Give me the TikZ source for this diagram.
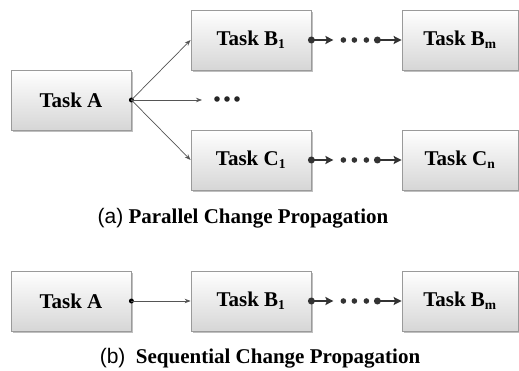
\documentclass[tikz,border=0pt]{standalone}
\usepackage{fontspec}
\setmainfont{Liberation Serif}
\newfontfamily\capsans{Liberation Sans}
\usetikzlibrary{arrows.meta,shadows,calc}

\definecolor{boxline}{HTML}{9A9A9A}
\definecolor{boxbottom}{HTML}{D6D6D6}
\definecolor{linkgray}{HTML}{555555}
\definecolor{chaingray}{HTML}{333333}

\tikzset{
  taskbox/.style={draw=boxline, line width=0.8pt, top color=white, bottom color=boxbottom,
    minimum width=120pt, minimum height=60pt, inner sep=0pt,
    font=\fontsize{21}{23}\selectfont\bfseries,
    drop shadow={shadow xshift=1.6pt, shadow yshift=-1.6pt, opacity=0.25, fill=black}},
  narrowbox/.style={taskbox, minimum width=116pt},
  link/.style={draw=linkgray, line width=0.7pt, -{Stealth[length=6pt, width=4.5pt]}},
  linkdot/.style={circle, fill=black, inner sep=0pt, minimum size=5pt},
  chainlink/.style={draw=chaingray, line width=1.8pt, -{Stealth[length=8pt, width=8pt, inset=1.5pt]}},
  chaindot/.style={circle, fill=chaingray, inner sep=0pt, minimum size=5.6pt},
  bigdot/.style={circle, fill=chaingray, inner sep=0pt, minimum size=7pt},
  gapdot/.style={circle, fill=black!85, inner sep=0pt, minimum size=5.6pt},
  caption/.style={font=\fontsize{21}{23}\selectfont, inner sep=0pt}
}

\newcommand{\sub}[1]{\textsubscript{\fontsize{13.5}{14}\selectfont #1}}

% a chain of tasks: source dot, arrow, three dots, dot, arrow
\newcommand{\taskchain}[3]{%
  \node[bigdot] (#3s) at (#1.east) {};
  \coordinate (#3a) at ($(#1.east)+(22pt,0)$);
  \node[chaindot] (#3d1) at ($(#1.east)+(32pt,0)$) {};
  \node[chaindot] (#3d2) at ($(#1.east)+(43pt,0)$) {};
  \node[chaindot] (#3d3) at ($(#1.east)+(55pt,0)$) {};
  \node[bigdot] (#3e) at ($(#1.east)+(66pt,0)$) {};
  \draw[chainlink] (#3s.center) -- (#3a);
  \draw[chainlink] (#3e.center) -- (#2.west);
}

\begin{document}
\begin{tikzpicture}[x=1pt, y=-1pt]
  \useasboundingbox (0,0) rectangle (519,371);

  % (a) parallel propagation
  \node[taskbox] (pA) at (71,100) {Task A};
  \node[taskbox] (pB1) at (251,40) {Task B\sub{1}};
  \node[narrowbox] (pBm) at (460,40) {Task B\sub{m}};
  \node[taskbox] (pC1) at (251,160) {Task C\sub{1}};
  \node[narrowbox] (pCn) at (460,160) {Task C\sub{n}};

  \coordinate (pMid) at (202,100);
  \node[gapdot] (g1) at (217,99) {};
  \node[gapdot] (g2) at (227,99) {};
  \node[gapdot] (g3) at (237,99) {};

  \node[linkdot] (pAd) at (pA.east) {};
  \draw[link] (pAd.center) -- (pB1.west);
  \draw[link] (pAd.center) -- (pMid);
  \draw[link] (pAd.center) -- (pC1.west);

  \taskchain{pB1}{pBm}{pb}
  \taskchain{pC1}{pCn}{pc}

  \node[caption] (capA) at (243,218) {{\capsans(a)} \textbf{Parallel Change Propagation}};

  % (b) sequential propagation
  \node[taskbox] (sA) at (71,301) {Task A};
  \node[taskbox] (sB1) at (251,301) {Task B\sub{1}};
  \node[narrowbox] (sBm) at (460,301) {Task B\sub{m}};

  \node[linkdot] (sAd) at (sA.east) {};
  \draw[link] (sAd.center) -- (sB1.west);
  \taskchain{sB1}{sBm}{sb}

  \node[caption] (capB) at (260,358) {{\capsans(b)}\enspace\textbf{Sequential Change Propagation}};
\end{tikzpicture}
\end{document}
